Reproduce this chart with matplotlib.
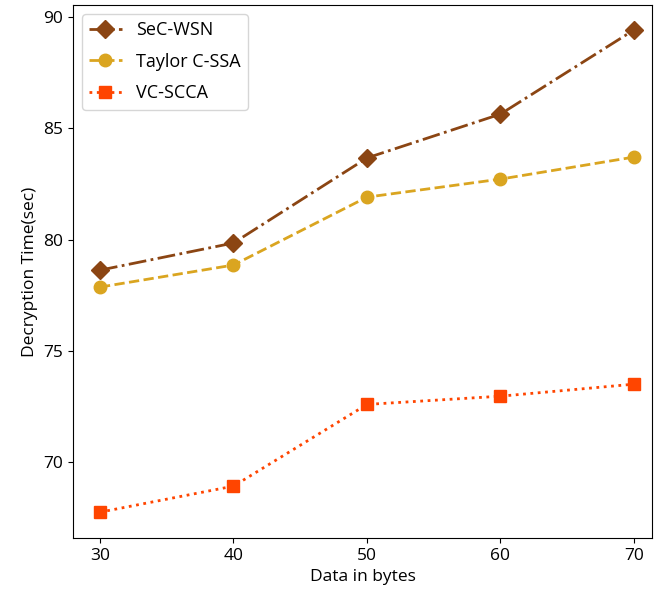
import matplotlib
matplotlib.use("Agg")
import matplotlib.pyplot as plt

x = [30, 40, 50, 60, 70]
sec_wsn = [78.63, 79.85, 83.67, 85.64, 89.42]
taylor = [77.87, 78.86, 81.91, 82.72, 83.71]
vc_scca = [67.76, 68.93, 72.60, 72.97, 73.51]
labels = ["SeC-WSN", "Taylor C-SSA", "VC-SCCA"]

plt.rcParams['font.family'] = ['Open Sans', 'DejaVu Sans']

fig = plt.figure(figsize=(6.54, 6.01), dpi=100)
ax = fig.add_axes([0.1116, 0.1048, 0.8854, 0.8869])

ax.plot(x, sec_wsn, linestyle='-.', color='#8B4513', marker='D', markersize=9, linewidth=2, label=labels[0])
ax.plot(x, taylor, linestyle='--', color='#DAA520', marker='o', markersize=9, linewidth=2, label=labels[1])
ax.plot(x, vc_scca, linestyle=':', color='#FF4500', marker='s', markersize=9, linewidth=2, label=labels[2])

ax.set_xlim(27.98, 71.35)
ax.set_ylim(66.6, 90.54)
ax.set_xticks(x)
ax.set_yticks([70, 75, 80, 85, 90])
ax.tick_params(labelsize=12.5)
ax.set_xlabel("Data in bytes", fontsize=12.5)
ax.set_ylabel("Decryption Time(sec)", fontsize=12.5)
ax.legend(loc='upper left', fontsize=13, labelspacing=0.75, handlelength=1.8)

fig.savefig("out.png", dpi=100)
